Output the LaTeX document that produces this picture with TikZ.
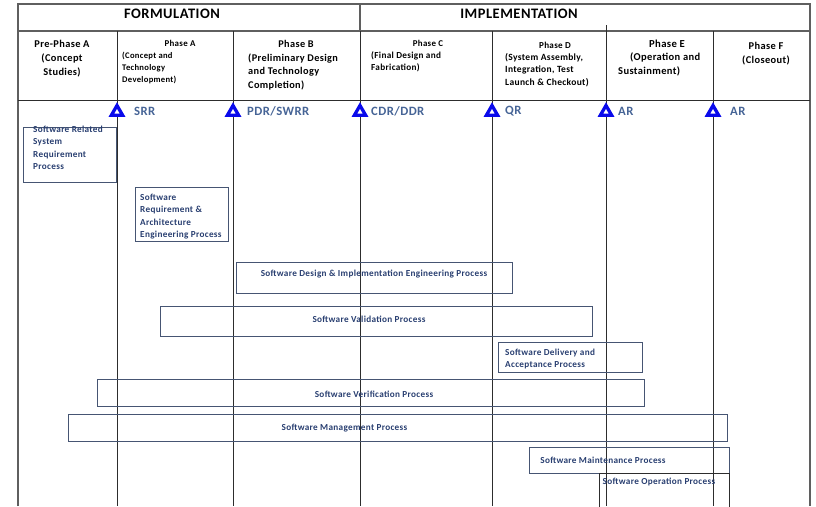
\documentclass[tikz,border=0pt]{standalone}
\usepackage{fontspec}
\setmainfont{Carlito}[LetterSpace=3.5]
\usetikzlibrary{shapes.geometric}
\definecolor{gridline}{RGB}{45,45,45}
\definecolor{framecol}{RGB}{95,95,95}
\definecolor{milecol}{RGB}{70,100,150}
\definecolor{proctext}{RGB}{40,62,112}
\definecolor{procedge}{RGB}{70,85,115}
\definecolor{tricol}{RGB}{10,10,235}

\begin{document}
\begin{tikzpicture}[x=1pt,y=-1pt,
  gridrule/.style={draw=gridline,line width=0.9pt},
  framerule/.style={draw=framecol,line width=1.4pt},
  phasetitle/.style={inner sep=0pt,font=\bfseries\fontsize{8.9}{12}\selectfont},
  phasedesc/.style={inner sep=0pt,anchor=north west,align=left,font=\bfseries\fontsize{8.6}{12}\selectfont},
  bigtitle/.style={inner sep=0pt,font=\bfseries\fontsize{14.5}{16}\selectfont},
  milestone/.style={regular polygon,regular polygon sides=3,draw=tricol,fill=white,line width=3.3pt,minimum size=13pt,inner sep=0pt},
  mlabel/.style={inner sep=0pt,anchor=west,text=milecol,font=\bfseries\fontsize{12.7}{14}\selectfont},
  procbox/.style={draw=procedge,line width=0.9pt,inner sep=0pt},
  proclabel/.style={inner sep=0pt,text=proctext,font=\bfseries\fontsize{9.2}{12.3}\selectfont},
  procblock/.style={proclabel,anchor=north west,align=left}]
\useasboundingbox (0,0) rectangle (816,506);

% outer frame and header rows
\draw[framerule] (18,506) -- (18,4) -- (810,4) -- (810,506);
\draw[framerule] (18,31) -- (810,31);
\draw[gridrule] (18,100) -- (810,100);
\draw[framerule] (360,4) -- (360,31);

% phase separators
\draw[gridrule] (117,31) -- (117,506);
\draw[gridrule] (233,31) -- (233,506);
\draw[gridrule] (360,31) -- (360,506);
\draw[gridrule] (492,31) -- (492,506);
\draw[gridrule] (606,25) -- (606,506);
\draw[gridrule] (713,31) -- (713,506);

% life-cycle headings
\node[bigtitle] (form) at (172,14) {FORMULATION};
\node[bigtitle] (impl) at (519,14) {IMPLEMENTATION};

% phase headings
\node[phasetitle,align=center,font=\bfseries\fontsize{10.4}{14}\selectfont] (pre) at (62,58.5) {Pre-Phase A\\(Concept\\Studies)};
\node[phasetitle] (pa) at (180,43) {Phase A};
\node[phasedesc] (pad) at (122,51.5) {(Concept and\\Technology\\Development)};
\node[phasetitle,font=\bfseries\fontsize{10.3}{13.5}\selectfont] (pb) at (296,44) {Phase B};
\node[phasedesc,font=\bfseries\fontsize{10.3}{13.5}\selectfont] (pbd) at (248,53.5) {(Preliminary Design\\and Technology\\Completion)};
\node[phasetitle] (pc) at (428,43) {Phase C};
\node[phasedesc,font=\bfseries\fontsize{9.2}{12}\selectfont] (pcd) at (371,51) {(Final Design and\\Fabrication)};
\node[phasetitle,font=\bfseries\fontsize{9.1}{12.5}\selectfont] (pd) at (555,45) {Phase D};
\node[phasedesc,font=\bfseries\fontsize{9.5}{12.5}\selectfont] (pdd) at (505,53) {(System Assembly,\\Integration, Test\\Launch \& Checkout)};
\node[phasetitle,font=\bfseries\fontsize{10.7}{14}\selectfont] (pe) at (667,44) {Phase E};
\node[phasedesc,font=\bfseries\fontsize{10.5}{14}\selectfont] (ped) at (618,53) {\hspace{12pt}(Operation and\\Sustainment)};
\node[phasetitle,align=center,font=\bfseries\fontsize{10.4}{14}\selectfont] (pf) at (766,54) {Phase F\\(Closeout)};

% milestone reviews
\node[milestone] (m1) at (117,112) {};
\node[milestone] (m2) at (233,112) {};
\node[milestone] (m3) at (360,112) {};
\node[milestone] (m4) at (492,112) {};
\node[milestone] (m5) at (606,112) {};
\node[milestone] (m6) at (713,112) {};
\node[mlabel] (l1) at (134,111) {SRR};
\node[mlabel] (l2) at (247,111) {PDR/SWRR};
\node[mlabel] (l3) at (371,111) {CDR/DDR};
\node[mlabel] (l4) at (505,111) {QR};
\node[mlabel] (l5) at (618,111) {AR};
\node[mlabel] (l6) at (730,111) {AR};

% software processes
\node[procbox,minimum width=93pt,minimum height=55pt] (b1) at (69.5,154.5) {};
\node[procblock] (t1) at (33,126) {Software Related\\System\\Requirement\\Process};
\node[procbox,minimum width=93pt,minimum height=54pt] (b2) at (181.5,214) {};
\node[procblock] (t2) at (140,194) {Software\\Requirement \&\\Architecture\\Engineering Process};
\node[procbox,minimum width=276pt,minimum height=31pt] (b3) at (374,277.5) {};
\node[proclabel] (t3) at (374,274.5) {Software Design \& Implementation Engineering Process};
\node[procbox,minimum width=432pt,minimum height=30pt] (b4) at (376,321) {};
\node[proclabel] (t4) at (369,319.5) {Software Validation Process};
\node[procbox,minimum width=144pt,minimum height=30pt] (b5) at (570,357) {};
\node[procblock] (t5) at (505,349) {Software Delivery and\\Acceptance Process};
\node[procbox,minimum width=547pt,minimum height=27pt] (b6) at (370.5,392.5) {};
\node[proclabel] (t6) at (374,394.5) {Software Verification Process};
\node[procbox,minimum width=659pt,minimum height=27pt] (b7) at (397.5,427.5) {};
\node[proclabel] (t7) at (344.5,428.5) {Software Management Process};
\node[procbox,minimum width=200pt,minimum height=26pt] (b8) at (629,460) {};
\node[proclabel] (t8) at (603,460.5) {Software Maintenance Process};
\node[procbox,draw=gridline,minimum width=130pt,minimum height=40pt] (b9) at (664,493) {};
\node[proclabel] (t9) at (659,482) {Software Operation Process};
\end{tikzpicture}
\end{document}
